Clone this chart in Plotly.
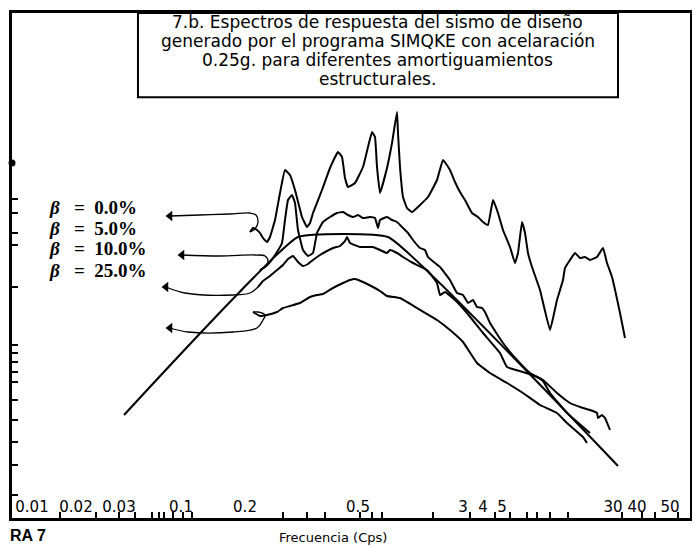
import plotly.graph_objects as go

# ---- data (horizontal position along printed frequency scale, vertical spectral ordinate; arbitrary chart units) ----
design_x = [112, 286, 376, 606]
design_y = [103, 281, 281, 52]

b00_x = [238, 241, 245, 248, 251, 255, 258, 263, 268, 273, 278, 283, 290, 295, 298, 301, 310, 318, 326, 330,
         333, 336, 343, 351, 356, 360, 363, 365, 368, 375, 380, 385, 386, 388, 391, 395, 400, 408, 416, 425,
         431, 438, 443, 448, 453, 460, 466, 471, 476, 481, 486, 491, 498, 503, 506, 510, 513, 516, 520, 528,
         538, 545, 551, 553, 558, 563, 568, 573, 578, 585, 591, 595, 600, 608, 613]
b00_y = [286, 290, 288, 285, 280, 276, 281, 298, 325, 348, 343, 328, 301, 291, 295, 305, 328, 350, 366, 361,
         340, 331, 335, 351, 371, 386, 381, 351, 325, 350, 375, 406, 385, 351, 321, 310, 306, 313, 321, 338,
         358, 348, 336, 326, 318, 305, 301, 296, 293, 318, 305, 288, 271, 255, 265, 296, 285, 265, 251, 228,
         188, 218, 238, 250, 258, 265, 260, 261, 258, 261, 270, 255, 241, 205, 180]

b05_x = [248, 253, 258, 265, 270, 273, 276, 280, 283, 286, 291, 296, 301, 305, 311, 318, 325, 331, 336, 341,
         346, 351, 358, 363, 366, 368, 375, 380, 385, 391, 396, 401, 408, 413, 416, 423, 428, 438, 445, 451,
         456, 461, 465, 470, 473, 478, 491, 505, 518, 531, 545, 558, 571, 578, 585, 586, 590, 593, 598]
b05_y = [248, 251, 256, 266, 275, 298, 318, 323, 315, 288, 268, 262, 265, 285, 296, 301, 305, 306, 303, 301,
         303, 300, 301, 300, 290, 298, 301, 298, 296, 290, 285, 278, 270, 268, 261, 255, 251, 238, 225, 223,
         215, 218, 211, 210, 206, 195, 175, 158, 145, 138, 125, 115, 110, 108, 105, 100, 103, 100, 88]

b10_x = [246, 251, 258, 265, 271, 276, 281, 286, 291, 296, 301, 308, 315, 321, 328, 333, 335, 338, 348, 361,
         368, 375, 378, 385, 391, 401, 415, 425, 428, 433, 443, 455, 471, 488, 495, 511, 525, 531, 538, 555,
         571, 578]
b10_y = [231, 237, 242, 248, 253, 259, 262, 256, 252, 254, 258, 263, 267, 270, 272, 277, 281, 275, 271, 271,
         268, 265, 268, 265, 261, 255, 248, 235, 223, 226, 218, 205, 185, 165, 151, 146, 141, 137, 125, 105,
         91, 85]

b25_x = [241, 248, 255, 265, 271, 278, 288, 298, 305, 311, 321, 331, 338, 343, 351, 361, 368, 375, 388, 405,
         425, 438, 451, 465, 478, 495, 511, 528, 545, 555, 571, 575]
b25_y = [206, 202, 203, 206, 210, 212, 215, 221, 223, 224, 230, 235, 238, 239, 236, 231, 227, 222, 220, 210,
         198, 188, 176, 155, 145, 135, 125, 113, 105, 95, 81, 75]

# leader arrows from the labels to each curve (first point = arrow tip)
arrow1_x = [158, 188, 218, 238, 244, 246, 243, 238]
arrow1_y = [302, 303, 304, 305, 303, 296, 289, 286]
arrow2_x = [170, 208, 243, 253, 256, 253, 248]
arrow2_y = [263, 262, 263, 262, 257, 251, 248]
arrow3_x = [154, 173, 221, 238, 246]
arrow3_y = [231, 225, 223, 225, 231]
arrow4_x = [158, 176, 221, 245, 251, 253, 246, 241]
arrow4_y = [190, 186, 186, 190, 198, 203, 206, 206]

beta_labels = ["0.0%", "5.0%", "10.0%", "25.0%"]

x_minor_ticks = [48, 84, 107, 123, 140, 147, 152, 161, 171, 180, 271, 295, 313, 348, 360, 370, 421, 458, 483,
                 498, 515, 525, 538, 556, 610, 630, 643, 666]
x_label_pos = [20, 64, 107, 169, 233, 346, 451, 471, 490, 601, 625, 658]
x_label_text = ["0.01", "0.02", "0.03", "0.1", "0.2", "0.5", "3", "4", "5", "30", "40", "50"]
y_ticks = [319, 305, 285, 273, 231, 173, 165, 156, 146, 136, 118, 98, 76, 53, 23]
y_dot = [355]

title_lines = ["7.b. Espectros de respuesta del sismo de diseño",
               "generado por el programa SIMQKE con acelaración",
               "0.25g. para diferentes amortiguamientos",
               "estructurales."]

XR = [0, 678]
YR = [0, 505]

fig = go.Figure()
for xs, ys in [(design_x, design_y), (b00_x, b00_y), (b05_x, b05_y), (b10_x, b10_y), (b25_x, b25_y)]:
    fig.add_trace(go.Scatter(x=xs, y=ys, mode="lines",
                             line=dict(color="black", width=2, shape="spline", smoothing=0.3),
                             hoverinfo="skip", showlegend=False))

for ax_, ay_ in [(arrow1_x, arrow1_y), (arrow2_x, arrow2_y), (arrow3_x, arrow3_y), (arrow4_x, arrow4_y)]:
    fig.add_trace(go.Scatter(x=ax_, y=ay_, mode="lines", line=dict(color="black", width=1.3, shape="spline"),
                             hoverinfo="skip", showlegend=False))
    fig.add_trace(go.Scatter(x=[ax_[0]], y=[ay_[0]], mode="markers",
                             marker=dict(symbol="triangle-left", size=9, color="black"),
                             hoverinfo="skip", showlegend=False))

# dot on the vertical axis
fig.add_trace(go.Scatter(x=[0], y=y_dot, mode="markers", xaxis="x2", cliponaxis=False,
                         marker=dict(symbol="circle", size=7, color="black"),
                         hoverinfo="skip", showlegend=False))

# beta labels
label_y = [311, 290, 270, 248]
for lab, yy in zip(beta_labels, label_y):
    fig.add_annotation(x=35, y=yy, xref="x", yref="y", xanchor="left", yanchor="middle", showarrow=False,
                       text="<b><i>β</i>\u00a0\u00a0\u00a0=\u00a0\u00a0" + lab + "</b>",
                       font=dict(family="Liberation Serif", size=19, color="black"))

# title box (frame) and its four lines
fig.add_shape(type="rect", xref="paper", yref="paper", x0=0.1858, x1=0.8938, y0=0.833, y1=1.0,
              line=dict(color="black", width=2), fillcolor="white", layer="below")
title_y = [0.982, 0.945, 0.907, 0.870]
for txt, ty in zip(title_lines, title_y):
    fig.add_annotation(x=0.5398, y=ty, xref="paper", yref="paper", xanchor="center", yanchor="middle",
                       showarrow=False, text=txt,
                       font=dict(family="DejaVu Sans", size=17, color="black"))

# axis title
fig.add_annotation(x=0.4735, y=-0.038, xref="paper", yref="paper", xanchor="center", yanchor="middle",
                   showarrow=False, text="Frecuencia (Cps)",
                   font=dict(family="DejaVu Sans", size=13, color="black"))
# figure number fragment
fig.add_annotation(x=-0.0059, y=-0.055, xref="paper", yref="paper", xanchor="left", yanchor="bottom",
                   showarrow=False, text="<b>RA 7</b>",
                   font=dict(family="Liberation Sans", size=16, color="black"))

fig.update_layout(
    width=692, height=539,
    margin=dict(l=4, r=10, t=5, b=29, autoexpand=False),
    paper_bgcolor="white", plot_bgcolor="white",
    showlegend=False,
    xaxis=dict(range=XR, showgrid=False, zeroline=False, showline=True, mirror=True, linecolor="black",
               linewidth=2.5, ticks="inside", ticklen=6, tickwidth=1.5, tickcolor="black",
               tickvals=x_minor_ticks, showticklabels=False, automargin=False),
    xaxis2=dict(range=XR, overlaying="x", anchor="y", side="bottom", showgrid=False, zeroline=False,
                showline=False, ticks="", tickvals=x_label_pos, ticktext=x_label_text,
                ticklabelposition="inside", ticklabelstandoff=0, automargin=False,
                tickfont=dict(family="DejaVu Sans", size=15, color="black")),
    yaxis=dict(range=YR, showgrid=False, zeroline=False, showline=True, mirror=True, linecolor="black",
               linewidth=2.5, ticks="inside", ticklen=6, tickwidth=1.5, tickcolor="black",
               tickvals=y_ticks, showticklabels=False, automargin=False),
)

fig.write_html("out.html")
